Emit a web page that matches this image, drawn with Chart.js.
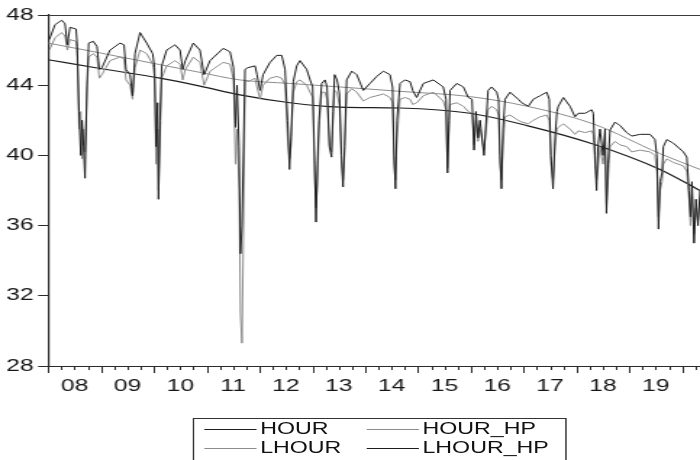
<!DOCTYPE html>
<html>
<head>
<meta charset="utf-8">
<script src="https://cdn.jsdelivr.net/npm/chart.js@4"></script>
<style>
  html, body { margin: 0; padding: 0; background: #fff; overflow: hidden; }
  #stage { position: absolute; left: 0; top: 0; width: 483px; height: 460px;
           transform: scaleX(1.4493); transform-origin: 0 0; }
  #legend { position: absolute; left: 132.5px; top: 418px; width: 258px; height: 60px;
            border: 1px solid #333; box-sizing: border-box;
            font: 16px 'Liberation Sans', Arial, sans-serif; color: #111; }
  .item { position: absolute; height: 20px; line-height: 20px; white-space: nowrap; }
  .swatch { position: absolute; left: 0; top: 10px; width: 36px; height: 0; border-top: 1px solid; }
  .item span { position: absolute; left: 39px; top: 0; }
</style>
</head>
<body>
<div id="stage">
  <canvas id="chart" width="483" height="460"></canvas>
  <div id="legend"></div>
</div>
<script>
// Weekly observations, time measured in weeks since the start of 2008.
const weeksPerYear = 365.25 / 7;
const firstYear = 2008;
const yearLabels = ['08', '09', '10', '11', '12', '13', '14', '15', '16', '17', '18', '19'];
const yTicks = [28, 32, 36, 40, 44, 48];

const weeks = [
  1.1, 6.7, 13.3, 16.6, 18.9, 21.5, 27.5, 28.7, 30.4, 32.1,
  33.4, 34.9, 36.3, 38.3, 40.0, 44.5, 48.2, 50.5, 53.1, 61.0,
  70.9, 74.9, 76.8, 80.8, 83.3, 85.7, 90.7, 97.3, 103.2, 105.0,
  106.5, 108.0, 108.9, 110.4, 112.1, 117.0, 125.2, 130.2, 132.8, 135.4,
  143.3, 149.9, 153.9, 159.8, 172.9, 179.6, 183.0, 185.0, 186.5, 188.5,
  189.9, 191.4, 192.9, 194.4, 197.3, 204.3, 206.2, 209.2, 212.2, 219.1,
  225.7, 230.6, 233.9, 236.4, 238.3, 239.8, 242.1, 245.4, 248.7, 255.3,
  258.6, 261.2, 263.0, 264.5, 266.0, 267.5, 270.1, 273.4, 275.4, 277.8,
  279.8, 281.3, 282.8, 285.3, 287.7, 289.7, 291.2, 292.7, 294.8, 299.8,
  304.7, 311.2, 317.8, 324.5, 331.0, 337.6, 340.1, 341.6, 343.0, 344.5,
  347.5, 352.4, 357.4, 360.0, 364.0, 370.5, 380.4, 390.2, 392.9, 394.4,
  395.9, 396.9, 403.5, 410.0, 414.9, 418.6, 420.6, 422.5, 424.5, 426.5,
  430.4, 434.4, 438.0, 443.0, 444.8, 446.2, 447.7, 449.2, 451.2, 456.1,
  464.3, 467.7, 474.2, 479.1, 485.8, 492.4, 494.9, 496.6, 498.6, 500.6,
  502.5, 503.8, 508.8, 515.4, 520.3, 523.6, 530.2, 536.8, 538.4, 540.1,
  541.6, 543.0, 545.0, 548.0, 550.0, 551.4, 552.9, 554.9, 559.8, 564.8,
  571.4, 576.3, 584.5, 594.4, 599.3, 601.3, 602.8, 604.3, 606.3, 607.5,
  610.9, 617.4, 627.3, 630.7, 632.9, 634.4, 635.9, 637.9, 639.8, 641.8,
  643.8, 645.8
];

const hour = [
  46.6, 47.45, 47.7, 47.5, 46.3, 47.3, 47.2, 46.2, 42.5, 40.0,
  42.0, 40.5, 38.7, 44.0, 46.4, 46.5, 46.2, 44.9, 45.0, 46.0,
  46.4, 46.3, 44.9, 44.6, 43.4, 45.8, 47.0, 46.4, 45.8, 45.0,
  40.5, 43.0, 37.5, 42.0, 45.1, 46.0, 46.3, 46.0, 44.9, 45.4,
  46.4, 46.0, 44.6, 45.4, 46.1, 45.9, 45.0, 41.6, 44.0, 40.5,
  34.4, 36.0, 40.3, 44.9, 45.0, 45.1, 44.6, 43.7, 44.6, 45.3,
  45.7, 45.7, 44.9, 42.0, 39.2, 41.0, 44.2, 45.1, 45.4, 44.9,
  44.3, 43.9, 40.0, 36.2, 39.5, 42.0, 44.1, 44.3, 43.9, 40.5,
  39.9, 42.5, 44.6, 44.3, 43.5, 40.0, 38.2, 40.5, 44.3, 44.8,
  44.6, 43.7, 44.1, 44.5, 44.8, 44.6, 43.9, 40.0, 38.1, 42.0,
  44.1, 44.3, 44.2, 43.7, 43.3, 44.1, 44.3, 43.9, 43.2, 39.0,
  42.0, 43.7, 44.1, 43.9, 43.3, 43.2, 40.3, 42.5, 41.0, 42.0,
  40.0, 43.7, 43.9, 43.6, 43.2, 40.0, 38.1, 41.5, 43.2, 43.6,
  43.2, 43.0, 42.8, 43.2, 43.4, 43.6, 43.2, 40.0, 38.1, 41.0,
  42.5, 42.8, 43.3, 42.8, 42.2, 42.4, 42.4, 42.6, 42.4, 40.0,
  38.0, 40.5, 41.5, 40.0, 41.5, 36.7, 39.5, 41.45, 41.9, 41.7,
  41.3, 41.1, 41.2, 41.2, 40.9, 39.9, 35.8, 38.5, 39.0, 40.5,
  40.9, 40.7, 40.2, 39.9, 38.0, 36.5, 38.5, 35.0, 37.5, 36.0,
  38.0, 37.0
];

const lhour = [
  46.0, 46.7, 47.0, 46.8, 46.0, 46.6, 46.5, 45.6, 41.5, 42.5,
  39.8, 41.5, 40.2, 43.6, 45.6, 45.8, 45.6, 44.4, 44.6, 45.4,
  45.6, 45.5, 44.3, 44.0, 43.2, 45.0, 46.0, 45.8, 45.2, 44.5,
  39.5, 41.5, 38.0, 41.0, 44.4, 45.1, 45.4, 45.2, 44.3, 44.9,
  45.6, 45.3, 44.0, 44.8, 45.3, 45.2, 44.3, 39.5, 41.5, 38.0,
  31.0, 29.3, 35.9, 44.3, 44.2, 44.4, 43.9, 43.2, 44.0, 44.4,
  44.5, 44.4, 44.0, 41.0, 39.8, 40.5, 43.6, 44.2, 44.3, 44.0,
  43.6, 43.3, 39.0, 37.0, 38.5, 41.5, 43.6, 43.6, 43.2, 40.5,
  40.2, 42.0, 43.7, 43.6, 42.8, 39.5, 38.6, 40.0, 43.5, 43.8,
  43.6, 43.1, 43.3, 43.4, 43.5, 43.3, 43.0, 39.5, 38.6, 41.0,
  43.2, 43.3, 43.2, 42.9, 43.0, 43.4, 43.6, 43.1, 42.6, 39.3,
  41.5, 42.9, 43.0, 42.8, 42.5, 42.4, 40.6, 42.0, 40.8, 41.5,
  40.3, 42.6, 42.8, 42.6, 42.3, 39.5, 38.6, 40.5, 42.2, 42.3,
  42.0, 41.9, 41.8, 42.0, 42.2, 42.3, 42.0, 39.5, 38.6, 40.5,
  41.5, 41.6, 41.8, 41.5, 41.2, 41.4, 41.3, 41.4, 41.2, 39.5,
  38.6, 39.2, 40.5, 39.5, 40.5, 37.2, 38.5, 40.5, 40.8, 40.6,
  40.5, 40.2, 40.3, 40.2, 40.0, 39.0, 36.5, 38.0, 38.5, 39.5,
  39.8, 39.6, 39.4, 39.1, 37.5, 36.0, 37.8, 35.5, 37.0, 36.3,
  37.5, 36.8
];

// Hodrick-Prescott trends, sampled along the smooth curves.
const hpWeeks = [0, 51.2, 110.4, 149.9, 189.4, 238.8, 288.2, 347.5, 416.6, 472.9, 538.1, 604.3, 643.8];
const hourHP  = [46.4, 45.84, 45.17, 44.73, 44.3, 44.1, 43.9, 43.65, 43.35, 42.8, 41.8, 40.1, 39.2];
const lhourHP = [45.45, 44.95, 44.4, 43.95, 43.45, 43.0, 42.75, 42.7, 42.4, 41.7, 40.65, 39.2, 38.0];

const DARK = '#1e1e1e';
const GREY = '#8c8c8c';
const xMax = 643.8;

const toPoints = (xs, ys) => xs.map((x, i) => ({ x: x, y: ys[i] }));
const lineStyle = (color) => ({
  borderColor: color, backgroundColor: color, borderWidth: 1,
  pointRadius: 0, fill: false, tension: 0
});

// Quarter tick marks along the time axis, longer at each new year.
const quarterTicks = {
  id: 'quarterTicks',
  afterDraw(chart) {
    const { ctx, chartArea, scales: { x } } = chart;
    ctx.save();
    ctx.strokeStyle = '#2a2a2a';
    ctx.lineWidth = 1;
    for (let q = 0; ; q++) {
      const v = q * weeksPerYear / 4;
      if (v > x.max) break;
      const px = Math.round(x.getPixelForValue(v)) + 0.5;
      const len = q % 4 === 0 ? 7 : 4;
      ctx.beginPath();
      ctx.moveTo(px, chartArea.bottom);
      ctx.lineTo(px, chartArea.bottom + len);
      ctx.stroke();
    }
    ctx.restore();
  }
};

const tickFont = { family: "'Liberation Sans', Arial, sans-serif", size: 17 };

const chart = new Chart(document.getElementById('chart'), {
  type: 'line',
  data: {
    datasets: [
      Object.assign({ label: 'HOUR', data: toPoints(weeks, hour) }, lineStyle(DARK)),
      Object.assign({ label: 'HOUR_HP', data: toPoints(hpWeeks, hourHP), cubicInterpolationMode: 'monotone' }, lineStyle(GREY)),
      Object.assign({ label: 'LHOUR', data: toPoints(weeks, lhour) }, lineStyle(GREY)),
      Object.assign({ label: 'LHOUR_HP', data: toPoints(hpWeeks, lhourHP), cubicInterpolationMode: 'monotone' }, lineStyle(DARK), { borderWidth: 1.2 })
    ]
  },
  options: {
    responsive: false,
    animation: false,
    events: [],
    layout: { padding: { top: 15, right: 0, bottom: 64, left: 0 } },
    plugins: { legend: { display: false }, tooltip: { enabled: false } },
    scales: {
      x: {
        type: 'linear',
        min: 0,
        max: xMax,
        afterFit: (scale) => { scale.height = 30; },
        afterBuildTicks: (scale) => {
          scale.ticks = yearLabels.map((_, i) => ({ value: (i + 0.5) * weeksPerYear }));
        },
        ticks: {
          autoSkip: false, maxRotation: 0, padding: 10,
          color: '#161616', font: tickFont,
          callback: (value, index) => yearLabels[index]
        },
        grid: { display: false, drawTicks: false },
        border: { display: true, color: '#2a2a2a', width: 1 }
      },
      y: {
        min: yTicks[0],
        max: yTicks[yTicks.length - 1],
        afterFit: (scale) => { scale.width = 33.26; },
        afterBuildTicks: (scale) => { scale.ticks = yTicks.map(v => ({ value: v })); },
        ticks: { padding: 3, color: '#161616', font: tickFont },
        grid: {
          drawOnChartArea: true,
          color: (c) => (c.tick && c.tick.value === yTicks[yTicks.length - 1]) ? '#3a3a3a' : 'rgba(0,0,0,0)',
          tickColor: '#2a2a2a',
          tickLength: 7
        },
        border: { display: true, color: '#2a2a2a', width: 1.2 }
      }
    }
  },
  plugins: [quarterTicks]
});

// Boxed two-column legend under the plot.
const legend = document.getElementById('legend');
const slots = [[7, 0], [119, 0], [7, 19], [119, 19]];
const order = [0, 1, 2, 3];
order.forEach((di, k) => {
  const ds = chart.data.datasets[di];
  const item = document.createElement('div');
  item.className = 'item';
  item.style.left = slots[k][0] + 'px';
  item.style.top = slots[k][1] + 'px';
  const sw = document.createElement('div');
  sw.className = 'swatch';
  sw.style.borderTopColor = ds.borderColor;
  const tx = document.createElement('span');
  tx.textContent = ds.label;
  item.appendChild(sw);
  item.appendChild(tx);
  legend.appendChild(item);
});
</script>
</body>
</html>
